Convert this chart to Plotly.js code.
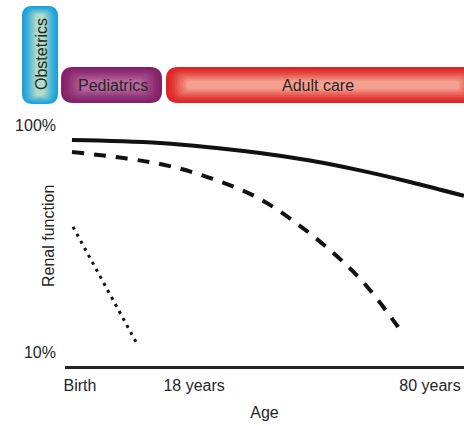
<!DOCTYPE html>
<html>
<head>
<meta charset="utf-8">
<script src="https://cdn.plot.ly/plotly-3.0.1.min.js"></script>
<style>html,body{margin:0;padding:0;background:#fff;}#chart{width:464px;height:426px;}</style>
</head>
<body>
<div id="chart"></div>
<script>
// Schematic age position (Birth = 0, 80 years = 100) and renal function (%)
const xTickVals = [0, 32.6, 100];
const xTickText = ['Birth', '18 years', '80 years'];
const yTickVals = [10, 100];
const yTickText = ['10%', '100%'];

const solidX = [-2.3, 22.9, 51.4, 65.7, 80, 94.3, 109.7];
const solidY = [94.1, 92.9, 88.9, 85.9, 82.0, 77.4, 71.9];

const dashedX = [-2.3, 13.4, 25.7, 38.0, 50.6, 61.4, 72.0, 81.1, 90.9];
const dashedY = [89.3, 86.7, 83.7, 78.6, 71.3, 61.5, 49.7, 37.4, 19.9];

const dottedX = [-2.0, 16.0];
const dottedY = [59.6, 14.0];

const careLabels = ['Obstetrics', 'Pediatrics', 'Adult care'];
const careEdgeColors = ['#1ca0dc', '#84216a', '#de2424'];
const careCenterColors = ['#b0dcc8', '#b8689e', '#f4a090'];

// layout geometry (pixels)
const W = 464, H = 426, L = 65, R = 0, T = 110, B = 60;
const pw = W - L - R, ph = H - T - B;
const px2x = p => (p - L) / pw;
const py2y = p => (H - B - p) / ph;
const FONT = 'Liberation Sans, Arial, Helvetica, sans-serif';
const TXT = '#262626';

const careBoxes = [
  {x0: 22, x1: 58, y0: 6, y1: 104, r: 10, vertical: true},
  {x0: 61, x1: 162, y0: 67, y1: 103, r: 12, vertical: false},
  {x0: 166, x1: 480, y0: 67, y1: 103, r: 12, vertical: false}
];

function hex2rgb(h){return [1,3,5].map(i=>parseInt(h.substr(i,2),16));}
function mix(a,b,t){const A=hex2rgb(a),B2=hex2rgb(b);return 'rgb('+A.map((v,i)=>Math.round(v+(B2[i]-v)*t)).join(',')+')';}
function rr(x0,x1,y0,y1,r){
  r = Math.max(0, Math.min(r, (x1-x0)/2, (y1-y0)/2));
  const P=(x,y)=>px2x(x).toFixed(5)+','+py2y(y).toFixed(5);
  return 'M'+P(x0+r,y0)+' L'+P(x1-r,y0)+' Q'+P(x1,y0)+' '+P(x1,y0+r)+
    ' L'+P(x1,y1-r)+' Q'+P(x1,y1)+' '+P(x1-r,y1)+' L'+P(x0+r,y1)+
    ' Q'+P(x0,y1)+' '+P(x0,y1-r)+' L'+P(x0,y0+r)+' Q'+P(x0,y0)+' '+P(x0+r,y0)+' Z';
}

const shapes = [];
const annotations = [];
careBoxes.forEach((b, i) => {
  const N = 8;
  const half = Math.min(b.x1-b.x0, b.y1-b.y0)/2;
  for (let k = 0; k < N; k++) {
    const inset = k * half * 0.85 / N;
    let ix = inset, iy = inset;
    if (b.vertical) { iy = inset * 0.6; } else { ix = inset * 1.5; }
    shapes.push({type:'path', xref:'paper', yref:'paper', layer:'above',
      path: rr(b.x0+ix, b.x1-ix, b.y0+iy, b.y1-iy, b.r - inset*0.5),
      fillcolor: mix(careEdgeColors[i], careCenterColors[i], Math.pow(k/(N-1),1.3)),
      line:{width:0}});
  }
  const cx = i === 2 ? 318 : (b.x0+b.x1)/2 + 1;
  annotations.push({xref:'paper', yref:'paper', x:px2x(cx), y:py2y((b.y0+b.y1)/2 + (b.vertical ? -1 : 0)),
    text: careLabels[i], showarrow:false, textangle: b.vertical ? -90 : 0,
    xanchor:'center', yanchor:'middle',
    font:{family:FONT, size:16, color:TXT}});
});

annotations.push({xref:'paper', yref:'paper', x:px2x(48), y:py2y(236),
  text:'Renal function', showarrow:false, textangle:-90, xanchor:'center', yanchor:'middle',
  font:{family:FONT, size:16, color:TXT}});

const traces = [
  {x: solidX, y: solidY, mode:'lines', line:{color:'#111', width:4, shape:'spline', smoothing:1}, hoverinfo:'skip'},
  {x: dashedX, y: dashedY, mode:'lines', line:{color:'#111', width:4, shape:'spline', smoothing:1, dash:'12px,10px'}, hoverinfo:'skip'},
  {x: dottedX, y: dottedY, mode:'lines', line:{color:'#111', width:3, dash:'3px,5px'}, hoverinfo:'skip'}
];

const layout = {
  width: W, height: H,
  margin: {l: L, r: R, t: T, b: B, pad: 0},
  paper_bgcolor:'#fff', plot_bgcolor:'#fff',
  showlegend:false,
  font:{family:FONT, color:TXT, size:16},
  xaxis:{range:[-(80-L)/3.5, (W-80)/3.5], tickvals:xTickVals, ticktext:xTickText,
    showgrid:false, zeroline:false, showline:true, linecolor:'#222', linewidth:2.5,
    ticks:'', ticklabelstandoff:3, tickfont:{family:FONT, size:16, color:TXT},
    title:{text:'Age', standoff:14, font:{family:FONT, size:16, color:TXT}}, fixedrange:true},
  yaxis:{range:[4.45, 105.95], tickvals:yTickVals, ticktext:yTickText,
    showgrid:false, zeroline:false, showline:false, ticks:'', ticklabelstandoff:8,
    tickfont:{family:FONT, size:16, color:TXT}, fixedrange:true},
  shapes: shapes,
  annotations: annotations
};

Plotly.newPlot('chart', traces, layout, {staticPlot:true, displayModeBar:false});
</script>
</body>
</html>
